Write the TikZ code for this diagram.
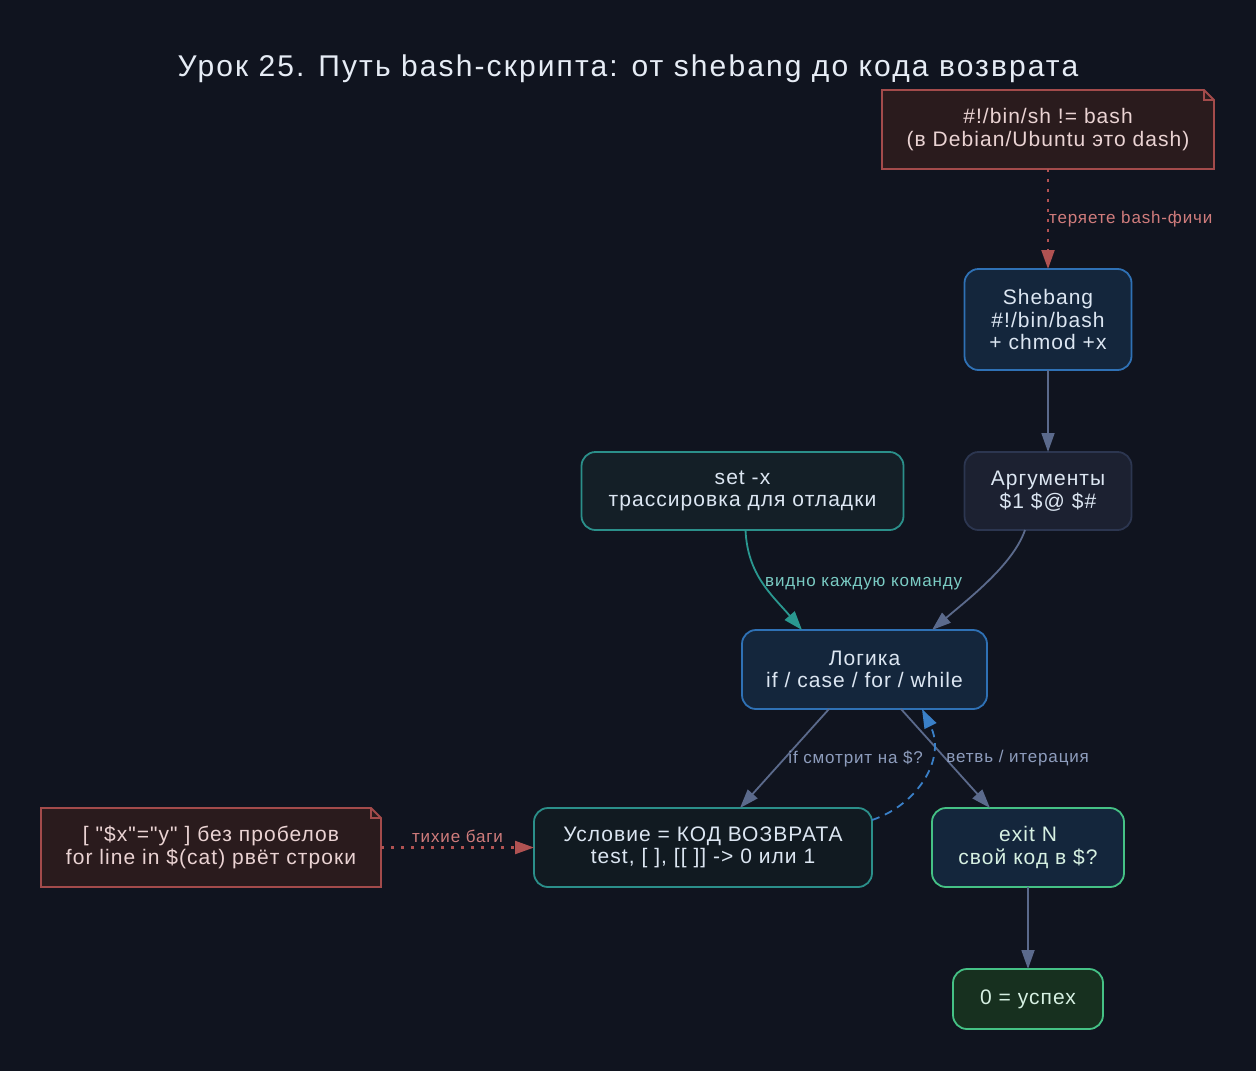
\documentclass[tikz,border=0pt]{standalone}
\usepackage{fontspec}
\setmainfont{Liberation Sans}[LetterSpace=5]
\newfontfamily\plainsans{Liberation Sans}[LetterSpace=5]
\usetikzlibrary{positioning, arrows.meta, backgrounds}
\definecolor{bgnight}{HTML}{10141F}
\definecolor{titleink}{HTML}{E6ECF5}
\definecolor{boxink}{HTML}{DCE6F2}
\definecolor{blueedge}{HTML}{2F71B5}
\definecolor{bluefill}{HTML}{14263C}
\definecolor{greyedge}{HTML}{2C3650}
\definecolor{greyfill}{HTML}{1C2131}
\definecolor{tealedge}{HTML}{2B8F8A}
\definecolor{tealfill}{HTML}{141F27}
\definecolor{greenedge}{HTML}{45C185}
\definecolor{greenfill}{HTML}{17301F}
\definecolor{greenink}{HTML}{D6F0E2}
\definecolor{noteedge}{HTML}{A34B4B}
\definecolor{notefill}{HTML}{2A1B1D}
\definecolor{noteink}{HTML}{EAD3D3}
\definecolor{edgegrey}{HTML}{5B6A8C}
\definecolor{greylblink}{HTML}{8E9DBD}
\definecolor{tealline}{HTML}{2A9890}
\definecolor{teallblink}{HTML}{7ACBC3}
\definecolor{redline}{HTML}{B05252}
\definecolor{redlblink}{HTML}{D07C7C}
\definecolor{blueline}{HTML}{3A80C8}
\newcommand{\dogear}[1]{
  \begin{scope}[on background layer]
    \draw[line width=1.8pt, draw=noteedge, fill=notefill, line join=miter] (#1.south west) -- (#1.north west) -- ([xshift=-10pt]#1.north east) -- ([yshift=-10pt]#1.north east) -- (#1.south east) -- cycle;
    \draw[line width=1.2pt, draw=noteedge] ([xshift=-10pt]#1.north east) -- ([xshift=-10pt,yshift=-10pt]#1.north east) -- ([yshift=-10pt]#1.north east);
  \end{scope}
}

\begin{document}
\begin{tikzpicture}[
    x=1pt, y=-1pt,
    font=\fontsize{21}{22.5}\selectfont,
    box/.style={draw, line width=1.8pt, rounded corners=14pt, align=center, inner sep=0pt, outer sep=0pt, text=boxink},
    bluebox/.style={box, draw=blueedge, fill=bluefill},
    greybox/.style={box, draw=greyedge, fill=greyfill},
    tealbox/.style={box, draw=tealedge, fill=tealfill},
    greenbox/.style={box, draw=greenedge, fill=bluefill, text=greenink},
    okbox/.style={box, draw=greenedge, fill=greenfill, text=greenink},
    notebox/.style={align=center, inner sep=0pt, outer sep=0pt, text=noteink},
    lbl/.style={font=\fontsize{17}{19}\selectfont, text=greylblink},
    teallbl/.style={lbl, text=teallblink},
    redlbl/.style={lbl, text=redlblink},
    arrow/.style={-{Triangle[length=19pt,width=13pt]}, line width=1.8pt, draw=edgegrey},
    tealarrow/.style={arrow, draw=tealline},
    redarrow/.style={arrow, draw=redline, line width=2.2pt, dash pattern=on 3pt off 7pt},
    bluearrow/.style={arrow, draw=blueline, dash pattern=on 8pt off 6pt},
]

\begin{scope}[on background layer]
  \fill[bgnight] (0,0) rectangle (1256,1071);
\end{scope}

% ---------------------------------------------------------------- title ---
\node[text=titleink, font=\fontsize{30}{34}\selectfont\addfontfeature{LetterSpace=7}] (title) at (628,69)
  {Урок 25. Путь bash-скрипта: от shebang до кода возврата};

% ------------------------------------------------------ shebang column ---
\node[bluebox, minimum width=167pt, minimum height=101pt] (shebang) at (1048,319.5)
  {Shebang\\\#!/bin/bash\\+ chmod +x};
\node[notebox, minimum width=332pt, minimum height=79pt, above=100pt of shebang] (shnote)
  {\#!/bin/sh != bash\\(в Debian/Ubuntu это dash)};
\dogear{shnote}
\draw[redarrow] (shnote) -- node[redlbl, right, inner sep=0pt] {теряете bash-фичи} (shebang);

\node[greybox, minimum width=167pt, minimum height=78pt, below=82pt of shebang] (args)
  {Аргументы\\\$1 \$@ \$\#};
\draw[arrow] (shebang) -- (args);

\node[tealbox, minimum width=322pt, minimum height=78pt, left=61pt of args] (setx)
  {set -x\\трассировка для отладки};

% ---------------------------------------------------------------- logic ---
\node[bluebox, minimum width=245pt, minimum height=79pt, below=100pt of args, xshift=-183.5pt] (logic)
  {Логика\\if / case / for / while};
\draw[arrow] ([xshift=-23pt]args.south) .. controls +(-12,35) and +(35,-30) .. ([xshift=67.5pt]logic.north);
\draw[tealarrow] ([xshift=3pt]setx.south) .. controls +(2,45) and +(-30,-35) ..
  node[teallbl, pos=0.5, anchor=west, inner sep=1pt] {видно каждую команду} ([xshift=-62.5pt]logic.north);

% ----------------------------------------------------- condition / exit ---
\node[tealbox, fill=tealfill!85!black, minimum width=338pt, minimum height=79pt, below=99pt of logic, xshift=-161.5pt] (cond)
  {Условие = КОД ВОЗВРАТА\\test, [ ], [[ ]] -> 0 или 1};
\node[greenbox, minimum width=192pt, minimum height=79pt, below=99pt of logic, xshift=163.5pt] (exitn)
  {exit N\\свой код в \$?};
\draw[arrow] ([xshift=-35.5pt]logic.south) -- node[lbl, right, pos=0.5, inner sep=3pt] {if смотрит на \$?} ([xshift=37pt]cond.north);
\draw[arrow] ([xshift=36.5pt]logic.south) -- node[lbl, anchor=west, pos=0.5, inner sep=0pt] {ветвь / итерация} ([xshift=-38pt]exitn.north);
\draw[bluearrow] ([yshift=27.5pt]cond.east) .. controls +(45,-15) and +(25,50) .. ([xshift=57.5pt]logic.south);

\node[notebox, font=\plainsans\fontsize{21}{22.5}\selectfont, minimum width=340pt, minimum height=79pt, left=153pt of cond] (bugnote)
  {[ "\$x"="y" ] без пробелов\\for line in \$(cat) рвёт строки};
\dogear{bugnote}
\draw[redarrow] (bugnote) -- node[redlbl, above] {тихие баги} (cond);

% --------------------------------------------------------------- result ---
\node[okbox, minimum width=150pt, minimum height=60pt, below=82pt of exitn] (ok) {0 = успех};
\draw[arrow] (exitn) -- (ok);

\end{tikzpicture}
\end{document}
